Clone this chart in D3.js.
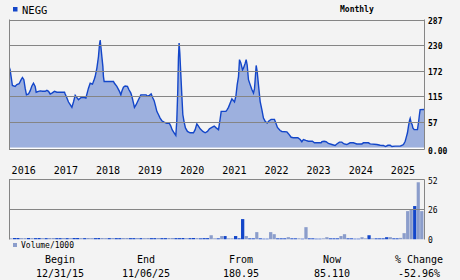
<!DOCTYPE html>
<html>
<head>
<meta charset="utf-8">
<script src="https://cdn.jsdelivr.net/npm/d3@7"></script>
<style>
body { margin: 0; background: #f3f3f3; }
svg { display: block; }
text { font-family: "DejaVu Sans Mono", monospace; fill: #000; }
</style>
</head>
<body>
<div id="chart"></div>
<script>
var ticker = "NEGG";
var period = "Monthly";

// price path: time as decimal year, value
var priceT = [
  2016.000, 2016.024, 2016.047, 2016.078, 2016.142, 2016.183, 2016.237, 2016.285, 2016.316, 2016.349,
  2016.380, 2016.411, 2016.458, 2016.498, 2016.539, 2016.577, 2016.617, 2016.641, 2016.695, 2016.736,
  2016.790, 2016.855, 2016.895, 2016.933, 2016.973, 2017.014, 2017.075, 2017.132, 2017.313, 2017.329,
  2017.370, 2017.408, 2017.448, 2017.488, 2017.526, 2017.567, 2017.607, 2017.645, 2017.709, 2017.787,
  2017.821, 2017.851, 2017.882, 2017.923, 2017.977, 2018.010, 2018.041, 2018.082, 2018.120, 2018.143,
  2018.160, 2018.177, 2018.200, 2018.224, 2018.238, 2018.255, 2018.476, 2018.499,
  2018.556, 2018.618, 2018.651, 2018.675, 2018.713, 2018.753, 2018.808, 2018.841, 2018.889, 2018.920,
  2018.950, 2018.974, 2019.014, 2019.069, 2019.126, 2019.252, 2019.283, 2019.330, 2019.371, 2019.411,
  2019.442, 2019.473, 2019.506, 2019.544, 2019.584, 2019.625, 2019.679, 2019.743, 2019.805, 2019.838,
  2019.869, 2019.916, 2019.957, 2019.980, 2020.004, 2020.019, 2020.035, 2020.052, 2020.076, 2020.099,
  2020.123, 2020.154, 2020.185, 2020.232, 2020.296, 2020.375, 2020.415, 2020.455, 2020.493, 2020.534,
  2020.598, 2020.652, 2020.707, 2020.754, 2020.811, 2020.866, 2020.913, 2020.968, 2021.001,
  2021.032, 2021.144, 2021.174, 2021.205, 2021.246, 2021.286, 2021.324, 2021.348, 2021.381, 2021.412,
  2021.443, 2021.467, 2021.500, 2021.538, 2021.561, 2021.602, 2021.625, 2021.649, 2021.680, 2021.720,
  2021.761, 2021.799, 2021.823, 2021.839, 2021.863, 2021.887, 2021.917, 2021.958, 2021.998, 2022.036,
  2022.076, 2022.124, 2022.171, 2022.219, 2022.297, 2022.330, 2022.368, 2022.432, 2022.473, 2022.592,
  2022.629, 2022.694, 2022.748, 2022.853, 2022.907, 2022.948, 2022.985, 2023.042, 2023.104, 2023.199,
  2023.247, 2023.406,
  2023.423, 2023.477, 2023.524, 2023.579, 2023.660, 2023.738, 2023.778, 2023.840, 2023.897, 2023.952,
  2024.016, 2024.094, 2024.172, 2024.253, 2024.372, 2024.410, 2024.528, 2024.569, 2024.728, 2024.806,
  2024.884, 2024.932, 2024.989, 2025.043, 2025.084, 2025.162, 2025.281, 2025.321, 2025.359, 2025.400,
  2025.423, 2025.454, 2025.478, 2025.502, 2025.518, 2025.542, 2025.566, 2025.582, 2025.613, 2025.691,
  2025.715, 2025.739, 2025.755, 2025.850
];
var priceV = [
  181, 174, 159, 139, 137, 141, 143, 152, 157, 152,
  133, 118, 120, 127, 138, 144, 137, 124, 126, 127,
  126, 126, 128, 126, 120, 122, 126, 124, 124, 120,
  111, 102, 96, 90, 102, 117, 112, 107, 112, 112,
  111, 122, 133, 144, 142, 150, 159, 178, 204, 230,
  241, 226, 204, 182, 159, 148, 148, 144,
  137, 126, 118, 126, 135, 138, 137, 130, 122, 112,
  100, 90, 96, 107, 118, 118, 115, 117, 120, 111,
  105, 94, 81, 74, 66, 60, 57, 54, 54, 48,
  40, 33, 27, 60, 130, 200, 234, 211, 163, 118,
  74, 57, 44, 36, 33, 33, 40, 53, 48, 42,
  36, 33, 36, 42, 45, 48, 44, 40, 60,
  81, 81, 85, 90, 100, 109, 105, 102, 115, 141,
  159, 197, 189, 174, 178, 189, 197, 185, 152, 141,
  130, 122, 132, 152, 184, 170, 141, 103, 85, 66,
  59, 55, 60, 63, 63, 55, 45, 38, 36, 35,
  31, 23, 22, 22, 18, 13, 18, 16, 14, 14,
  10.5, 10.5,
  13, 14, 13, 9, 6.7, 4.5, 8, 12, 12, 8,
  6.7, 10.5, 10.5, 8, 8, 10.5, 10.5, 8, 6.7, 5,
  4.5, 2.2, 5, 5, 2.2, 3, 3, 5, 6.7, 14,
  22, 33, 48, 60, 65, 55, 51, 44, 40, 40,
  55, 74, 85, 85.11
];

// monthly volume (thousands), Jan 2016 .. Oct 2025, and 1 = dark bar
var volumes = [
  1.0, 1.3, 1.3, 1.2, 1.2, 1.3, 1.2, 1.2, 1.3, 1.2,
  1.2, 1.3, 1.3, 1.2, 1.2, 1.3, 1.2, 1.2, 1.3, 1.3,
  1.2, 1.2, 1.3, 1.2, 1.2, 1.3, 1.3, 1.2, 1.2, 1.3,
  1.2, 1.2, 1.3, 1.3, 1.2, 1.2, 1.3, 1.2, 1.2, 1.3,
  1.2, 1.2, 1.3, 1.2, 1.2, 1.3, 1.3, 1.2, 1.2, 1.3,
  1.2, 1.2, 1.3, 1.2, 1.0, 1.2, 1.2, 3.7, 1.0, 1.0,
  3.0, 3.0, 1.0, 1.0, 3.0, 1.0, 17.7, 3.0, 1.0, 1.0,
  6.4, 1.0, 0.7, 0.7, 6.4, 4.6, 1.0, 1.0, 1.0, 2.0,
  1.0, 1.0, 1.0, 0.7, 10.7, 1.0, 1.0, 0.7, 0.7, 1.0,
  2.0, 1.0, 1.0, 1.0, 3.0, 4.6, 1.0, 1.0, 0.7, 0.7,
  2.0, 1.0, 3.7, 1.0, 1.0, 1.0, 1.0, 2.0, 2.0, 1.0,
  1.0, 1.4, 5.5, 24.6, 25.8, 29.0, 49.6, 24.6
];
var volDark = [
  0, 1, 1, 0, 0, 1, 0, 1, 1, 0,
  1, 0, 0, 1, 1, 0, 1, 0, 1, 1,
  0, 1, 0, 0, 1, 1, 0, 0, 1, 0,
  1, 1, 0, 0, 1, 1, 0, 1, 0, 0,
  1, 1, 0, 1, 1, 0, 0, 1, 1, 1,
  0, 1, 1, 0, 1, 1, 1, 0, 0, 1,
  0, 1, 0, 0, 1, 1, 1, 0, 1, 1,
  0, 1, 1, 1, 0, 0, 1, 1, 1, 0,
  1, 1, 0, 1, 0, 1, 1, 1, 1, 0,
  0, 1, 1, 1, 0, 0, 1, 1, 1, 1,
  0, 0, 1, 0, 1, 1, 1, 1, 0, 1,
  1, 0, 0, 0, 0, 1, 0, 0
];

var priceTicks = [0, 57, 115, 172, 230, 287];
var priceTickLabels = ["0.00", "57", "115", "172", "230", "287"];
var volTicks = [0, 26, 52];
var years = [2016, 2017, 2018, 2019, 2020, 2021, 2022, 2023, 2024, 2025];
var statLabels = ["Begin", "End", "From", "Now", "% Change"];
var statValues = ["12/31/15", "11/06/25", "180.95", "85.110", "-52.96%"];

var width = 460, height = 280;
var left = 9, right = 424;
var lineBlue = "#1346c9", fillBlue = "#9db0de", lightBar = "#8b9dcb", gridGray = "#858585";

// decimal year -> Date
function fromDecimal(t) {
    var y = Math.floor(t);
    var s = new Date(y, 0, 1), e = new Date(y + 1, 0, 1);
    return new Date(+s + (t - y) * (e - s));
}

var svg = d3.select("#chart").append("svg")
    .attr("width", width).attr("height", height);

var xScale = d3.scaleTime()
    .domain([new Date(2015, 11, 31), new Date(2025, 10, 6)])
    .range([left, right]);
var yScale = d3.scaleLinear().domain([0, 287]).range([147.5, 19.5]);
var vScale = d3.scaleLinear().domain([0, 52]).range([239.5, 179.5]);

svg.append("clipPath").attr("id", "priceClip")
    .append("rect").attr("x", left).attr("y", 19).attr("width", right - left).attr("height", 129);
svg.append("clipPath").attr("id", "volClip")
    .append("rect").attr("x", left + 0.5).attr("y", 179).attr("width", right - left - 0.5).attr("height", 60.5);

// title
svg.append("rect").attr("x", 13).attr("y", 7).attr("width", 4.5).attr("height", 4.5).attr("fill", lineBlue);
svg.append("text").attr("x", 22).attr("y", 13.5).attr("font-size", 10.5).text(ticker);
svg.append("text").attr("x", 340).attr("y", 12).attr("font-size", 8).attr("font-weight", "bold").text(period);

// price panel
var pts = priceT.map(function(t, i) { return {d: fromDecimal(t), v: priceV[i]}; });

var area = d3.area()
    .x(function(p) { return xScale(p.d); })
    .y0(yScale(0))
    .y1(function(p) { return yScale(p.v); });
var line = d3.line()
    .x(function(p) { return xScale(p.d); })
    .y(function(p) { return yScale(p.v); });

var pg = svg.append("g").attr("clip-path", "url(#priceClip)");
pg.append("path").datum(pts).attr("d", area).attr("fill", fillBlue);
pg.append("path").datum(pts).attr("d", line)
    .attr("fill", "none").attr("stroke", lineBlue).attr("stroke-width", 1.4)
    .attr("stroke-linejoin", "miter");

// grid lines + frame
svg.selectAll("line.pgrid").data(priceTicks.slice(1)).enter().append("line")
    .attr("class", "pgrid")
    .attr("x1", left).attr("x2", right)
    .attr("y1", function(d) { return Math.round(yScale(d)) + 0.5; })
    .attr("y2", function(d) { return Math.round(yScale(d)) + 0.5; })
    .attr("stroke", gridGray);
svg.append("line").attr("x1", left).attr("x2", right).attr("y1", 148.5).attr("y2", 148.5).attr("stroke", "#ffffff");
svg.append("line").attr("x1", left).attr("x2", right + 0.5).attr("y1", 149.5).attr("y2", 149.5).attr("stroke", gridGray);
svg.append("line").attr("x1", left + 0.5).attr("x2", left + 0.5).attr("y1", 19.5).attr("y2", 149.5).attr("stroke", gridGray);
svg.append("line").attr("x1", right + 0.5).attr("x2", right + 0.5).attr("y1", 19.5).attr("y2", 149.5).attr("stroke", gridGray);

// right axis labels
svg.selectAll("text.plab").data(priceTicks).enter().append("text")
    .attr("class", "plab")
    .attr("x", 428)
    .attr("y", function(d) { return yScale(d) + (d == 0 ? 6.5 : 4); })
    .attr("font-size", 8).attr("font-weight", "bold")
    .text(function(d, i) { return priceTickLabels[i]; });

// year labels
svg.selectAll("text.year").data(years).enter().append("text")
    .attr("class", "year")
    .attr("x", function(y) { return xScale(new Date(y, 0, 1)) + 2.5; })
    .attr("y", 174)
    .attr("font-size", 10)
    .text(function(y) { return y; });

// volume panel
var months = d3.timeMonth.range(new Date(2016, 0, 1), new Date(2025, 11, 1));
var vg = svg.append("g").attr("clip-path", "url(#volClip)");
vg.selectAll("rect").data(volumes).enter().append("rect")
    .attr("x", function(v, i) { return xScale(months[i]) + 0.3; })
    .attr("width", function(v, i) { return xScale(months[i + 1]) - xScale(months[i]) - 0.3; })
    .attr("y", function(v) { return vScale(v); })
    .attr("height", function(v) { return vScale(0) - vScale(v); })
    .attr("fill", function(v, i) { return volDark[i] ? lineBlue : lightBar; });

svg.append("line").attr("x1", left).attr("x2", right + 0.5).attr("y1", 179.5).attr("y2", 179.5).attr("stroke", gridGray);
svg.append("line").attr("x1", left).attr("x2", right).attr("y1", Math.round(vScale(26)) - 0.5).attr("y2", Math.round(vScale(26)) - 0.5).attr("stroke", gridGray);
svg.append("line").attr("x1", left + 0.5).attr("x2", left + 0.5).attr("y1", 179.5).attr("y2", 239.5).attr("stroke", gridGray);
svg.append("line").attr("x1", right + 0.5).attr("x2", right + 0.5).attr("y1", 179.5).attr("y2", 239.5).attr("stroke", gridGray);

svg.selectAll("text.vlab").data(volTicks).enter().append("text")
    .attr("class", "vlab")
    .attr("x", 428)
    .attr("y", function(d) { return vScale(d) + (d == 52 ? 4.5 : 3); })
    .attr("font-size", 8)
    .text(function(d) { return d; });

svg.append("rect").attr("x", 13).attr("y", 243).attr("width", 4).attr("height", 4).attr("fill", lightBar);
svg.append("text").attr("x", 21).attr("y", 248).attr("font-size", 8).text("Volume/1000");

// summary rows
var statX = [60, 146, 241, 332, 419];
svg.selectAll("text.slab").data(statLabels).enter().append("text")
    .attr("x", function(d, i) { return statX[i]; }).attr("y", 263)
    .attr("text-anchor", "middle").attr("font-size", 10)
    .text(function(d) { return d; });
svg.selectAll("text.sval").data(statValues).enter().append("text")
    .attr("x", function(d, i) { return statX[i]; }).attr("y", 277)
    .attr("text-anchor", "middle").attr("font-size", 10)
    .text(function(d) { return d; });
</script>
</body>
</html>
